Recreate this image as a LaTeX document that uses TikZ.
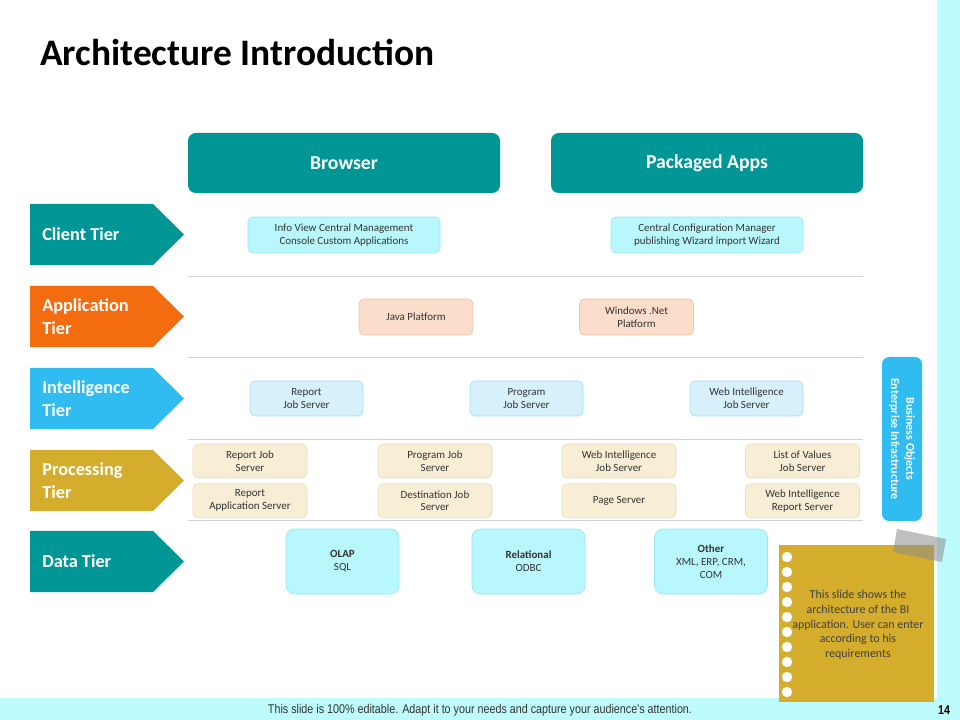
\documentclass[tikz,border=0pt]{standalone}
\usepackage{fontspec}
\setmainfont{Carlito}
\newfontfamily\footfont[FakeStretch=0.85]{Liberation Sans}
\usetikzlibrary{positioning, shapes, arrows.meta}
\definecolor{ThemeTeal}{RGB}{0, 150, 150}
\definecolor{TierOrange}{RGB}{243, 108, 16}
\definecolor{TierSky}{RGB}{48, 188, 240}
\definecolor{TierMustard}{RGB}{211, 173, 43}
\definecolor{StripCyan}{RGB}{190, 251, 253}
\definecolor{PaleCyan}{RGB}{184, 248, 252}
\definecolor{PaleCyanLine}{RGB}{150, 232, 240}
\definecolor{PalePeach}{RGB}{251, 221, 203}
\definecolor{PalePeachLine}{RGB}{240, 196, 168}
\definecolor{PaleBlue}{RGB}{214, 241, 252}
\definecolor{PaleBlueLine}{RGB}{168, 220, 240}
\definecolor{PaleCream}{RGB}{248, 238, 213}
\definecolor{PaleCreamLine}{RGB}{234, 222, 188}

\tikzset{
  boxsize/.style 2 args={minimum width=#1*0.025cm, minimum height=#2*0.025cm},
  headbox/.style={fill=ThemeTeal, rounded corners=5.5pt, boxsize={312}{60},
    text=white, font=\bfseries\fontsize{14}{16}\selectfont},
  tierlabel/.style={anchor=west, align=left, inner sep=0pt, text=white,
    font=\bfseries\fontsize{13}{16.3}\selectfont},
  cell/.style={rounded corners=3.5pt, draw, line width=0.5pt, align=center,
    inner sep=1pt, text=black!80, font=\fontsize{7.8}{9.2}\selectfont},
  clientcell/.style={cell, fill=PaleCyan, draw=PaleCyanLine, boxsize={192}{36}},
  appcell/.style={cell, fill=PalePeach, draw=PalePeachLine, boxsize={114}{36}},
  intelcell/.style={cell, fill=PaleBlue, draw=PaleBlueLine, boxsize={113}{35}},
  proccell/.style={cell, fill=PaleCream, draw=PaleCreamLine, boxsize={114}{34}},
  datacell/.style={cell, fill=PaleCyan, draw=PaleCyanLine, boxsize={113}{65},
    rounded corners=6pt}
}

\begin{document}
\begin{tikzpicture}[x=0.025cm, y=-0.025cm]
    % Page
    \useasboundingbox (0,0) rectangle (960,720);
    \fill[white] (0,0) rectangle (960,720);
    \fill[StripCyan] (937,0) rectangle (960,720);
    \fill[StripCyan] (0,698) rectangle (960,720);

    % Title
    \node[anchor=west, inner sep=0pt, font=\bfseries\fontsize{26.6}{30}\selectfont] (title) at (40,52) {Architecture Introduction};

    % Header boxes
    \node[headbox] (browser) at (344,163) {Browser};
    \node[headbox] (apps) at (707,163) {Packaged Apps};

    % Tier arrows
    \foreach \y/\name/\col/\txt in {234.5/client/ThemeTeal/Client Tier, 316.5/application/TierOrange/Application\\Tier,
        398.5/intelligence/TierSky/Intelligence\\Tier, 480.5/processing/TierMustard/Processing\\Tier, 561.5/data/ThemeTeal/Data Tier} {
      \fill[\col] (30,\y-30.5) -- (153,\y-30.5) -- (184,\y) -- (153,\y+30.5) -- (30,\y+30.5) -- cycle;
      \node[tierlabel] (\name) at (42,\y) {\txt};
    }

    % Separators
    \foreach \y in {276,357,439,520}
      \draw[black!18, line width=0.6pt] (188,\y) -- (863,\y);

    % Client tier
    \node[clientcell] (infoview) at (344,235) {Info View Central Management\\Console Custom Applications};
    \node[clientcell] (configmgr) at (707,235) {Central Configuration Manager\\publishing Wizard import Wizard};

    % Application tier
    \node[appcell] (java) at (416,317) {Java Platform};
    \node[appcell] (dotnet) at (636.5,317) {Windows .Net\\Platform};

    % Intelligence tier
    \node[intelcell] (reportjs) at (306.5,398.5) {Report\\Job Server};
    \node[intelcell] (programjs) at (526.5,398.5) {Program\\Job Server};
    \node[intelcell] (webijs) at (746.5,398.5) {Web Intelligence\\Job Server};

    % Processing tier
    \node[proccell] (procreport) at (250,461) {Report Job\\Server};
    \node[proccell] (procprogram) at (435,461) {Program Job\\Server};
    \node[proccell] (procwebi) at (619,461) {Web Intelligence\\Job Server};
    \node[proccell] (proclov) at (802.5,461) {List of Values\\Job Server};
    \node[proccell, below=0.125cm of procreport] (procrepapp) {Report\\Application Server};
    \node[proccell, below=0.125cm of procprogram] (procdest) {Destination Job\\Server};
    \node[proccell, below=0.125cm of procwebi] (procpage) {Page Server};
    \node[proccell, below=0.125cm of proclov] (procwebirep) {Web Intelligence\\Report Server};

    % Data tier
    \node[datacell] (olap) at (342.5,561.5) {\textbf{OLAP}\\SQL};
    \node[datacell] (relational) at (528.5,561.5) {\textbf{Relational}\\ODBC};
    \node[datacell] (other) at (711,561.5) {\textbf{Other}\\XML, ERP, CRM,\\COM};

    % Enterprise infrastructure bar
    \node[fill=TierSky, rounded corners=5pt, boxsize={40}{164}] (infra) at (902,439) {};
    \node[rotate=-90, align=center, text=white, font=\bfseries\fontsize{8.5}{11}\selectfont] (infratext) at (infra.center) {Business Objects\\Enterprise Infrastructure};

    % Note
    \fill[TierMustard] (779,545) rectangle (934,702);
    \foreach \k in {0,...,9}
      \fill[white] (787,557+15*\k) circle (5.2);
    \fill[black!45, opacity=0.55] (897,529) -- (946,539) -- (942,562) -- (893,552) -- cycle;
    \node[align=center, text=black!75, font=\fontsize{8.5}{10.4}\selectfont] (notetext) at (858,625)
      {This slide shows the\\architecture of the BI\\application. User can enter\\according to his\\requirements};

    % Footer
    \node[text=black!80, font=\footfont\fontsize{9}{10}\selectfont] (footer) at (480,710) {This slide is 100\% editable. Adapt it to your needs and capture your audience's attention.};
    \node[font=\footfont\bfseries\fontsize{9}{10}\selectfont] (pagenum) at (944,710) {14};
  \end{tikzpicture}
\end{document}
